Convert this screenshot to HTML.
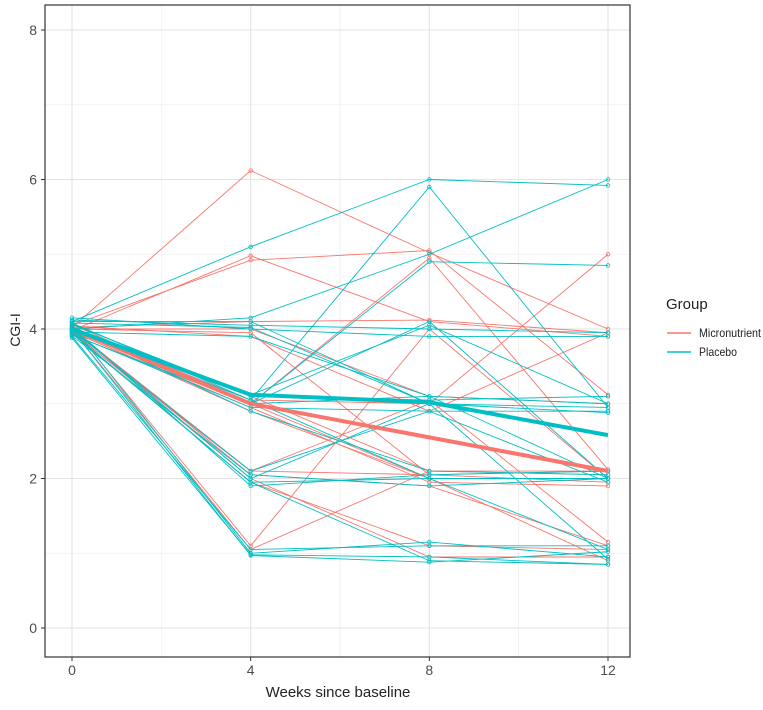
<!DOCTYPE html>
<html><head><meta charset="utf-8"><style>
body{margin:0;background:#fff;font-family:"Liberation Sans",sans-serif}
svg text{font-family:"Liberation Sans",sans-serif}
</style></head><body>
<svg id="chart" width="763" height="705" xmlns="http://www.w3.org/2000/svg">
<g id="grid"></g>
<g id="lines"></g>
<g id="axes"></g>
<text x="20" y="330" font-size="14" fill="#222" text-anchor="middle" transform="rotate(-90 20 330)">CGI-I</text>
<text x="338" y="697" font-size="15" fill="#222" text-anchor="middle">Weeks since baseline</text>
<g>
<text x="666" y="309" font-size="15" fill="#222">Group</text>
<line x1="667" y1="333" x2="691" y2="333" stroke="#F8766D" stroke-width="1.5"/>
<text x="699" y="337" font-size="12" fill="#222" textLength="62" lengthAdjust="spacingAndGlyphs">Micronutrient</text>
<line x1="667" y1="352" x2="691" y2="352" stroke="#00BFC4" stroke-width="1.5"/>
<text x="699" y="356" font-size="12" fill="#222" textLength="38" lengthAdjust="spacingAndGlyphs">Placebo</text>
</g>
</svg>
<script>
const weeks=[0,4,8,12];
const yTicks=[0,2,4,6,8];
const xTicks=[0,4,8,12];
const microMean=[4.0,3.0,2.55,2.1];
const placeboMean=[4.0,3.12,3.02,2.58];
const microSubjects=[
[4.02,6.12,5.02,4.0],[3.98,4.98,4.1,3.9],[4.05,4.92,5.05,3.12],[3.95,2.1,2.05,2.1],
[4.0,2.05,1.9,1.1],[3.97,2.0,0.95,0.95],[4.03,3.0,2.0,2.0],[4.01,3.05,3.0,5.0],
[3.99,1.05,2.1,2.05],[4.04,3.9,2.9,3.95],[3.96,2.95,1.95,1.9],[4.02,4.1,4.12,3.95],
[3.98,3.1,2.1,2.1],[4.0,2.1,3.05,1.15],[3.94,1.95,1.1,1.05],[4.06,3.0,4.95,2.12],
[4.0,4.0,3.1,3.0],[3.97,2.9,2.0,0.9],[4.03,1.1,4.0,2.0],[4.0,3.95,2.05,1.95]];
const placeboSubjects=[
[4.1,5.1,6.0,5.92],[4.08,3.05,5.9,2.95],[4.0,4.15,5.0,6.0],[3.92,3.0,4.9,4.85],
[4.12,4.05,4.0,3.95],[3.9,1.05,1.1,1.1],[3.88,0.98,0.95,0.85],[4.05,1.0,1.15,0.95],
[3.95,1.95,2.0,2.0],[4.0,2.0,3.0,2.95],[4.15,4.0,3.9,3.9],[3.93,2.95,2.9,2.9],
[4.07,3.1,3.05,3.1],[3.97,3.05,2.0,1.05],[4.03,1.9,2.05,2.1],[3.96,3.9,3.1,3.0],
[4.1,4.1,3.0,0.92],[3.91,2.05,1.9,2.0],[4.02,2.9,2.1,2.05],[4.06,3.12,4.05,3.0],
[3.99,0.97,0.88,1.02],[4.0,3.0,3.1,2.0],[3.94,1.95,0.9,0.85],[4.08,4.02,3.0,2.88],
[3.98,2.1,2.9,1.95],[4.01,3.0,4.1,2.0]];
const L=45,R=630,T=5,B=657;
const X=w=>72+w*(608-72)/12;
const Y=v=>628-v*74.75;
const NS="http://www.w3.org/2000/svg";
function mk(p,tag,a){const e=document.createElementNS(NS,tag);for(const k in a)e.setAttribute(k,a[k]);p.appendChild(e);return e;}
const g=document.getElementById('grid'),ln=document.getElementById('lines'),ax=document.getElementById('axes');
[1,3,5,7].forEach(v=>{const e=mk(g,'line',{x1:L,x2:R,y1:Y(v),y2:Y(v),stroke:'#efefef','stroke-width':0.8});

});
[2,6,10].forEach(v=>{const e=mk(g,'line',{x1:X(v),x2:X(v),y1:T,y2:B,stroke:'#efefef','stroke-width':0.8});

});
yTicks.forEach(v=>{const e=mk(g,'line',{x1:L,x2:R,y1:Y(v),y2:Y(v),stroke:'#e3e3e3','stroke-width':1.1});


const t=mk(ax,'text',{x:L-8,y:Y(v)+5,'font-size':14,fill:'#4d4d4d','text-anchor':'end'});t.textContent=v;


const k=mk(ax,'line',{x1:L-4,x2:L,y1:Y(v),y2:Y(v),stroke:'#333'});

});
xTicks.forEach(v=>{const e=mk(g,'line',{x1:X(v),x2:X(v),y1:T,y2:B,stroke:'#e3e3e3','stroke-width':1.1});


const t=mk(ax,'text',{x:X(v),y:B+18,'font-size':14,fill:'#4d4d4d','text-anchor':'middle'});t.textContent=v;


const k=mk(ax,'line',{x1:X(v),x2:X(v),y1:B,y2:B+4,stroke:'#333'});

});
const border=mk(ax,'rect',{x:L,y:T,width:R-L,height:B-T,fill:'none',stroke:'#333','stroke-width':1.2});


function pts(arr){return arr.map((v,i)=>X(weeks[i])+','+Y(v)).join(' ');}
function subj(arr,color,name){
const p=mk(ln,'polyline',{points:pts(arr),fill:'none',stroke:color,'stroke-width':0.9});


arr.forEach((v,i)=>{const c=mk(ln,'circle',{cx:X(weeks[i]),cy:Y(v),r:1.8,fill:'none',stroke:color,'stroke-width':0.8});

});}
microSubjects.forEach(a=>subj(a,'#F8766D','micronutrient'));
placeboSubjects.forEach(a=>subj(a,'#00BFC4','placebo'));
const m1=mk(ln,'polyline',{points:pts(microMean),fill:'none',stroke:'#F8766D','stroke-width':4});


const m2=mk(ln,'polyline',{points:pts(placeboMean),fill:'none',stroke:'#00BFC4','stroke-width':4});


</script>
</body></html>
